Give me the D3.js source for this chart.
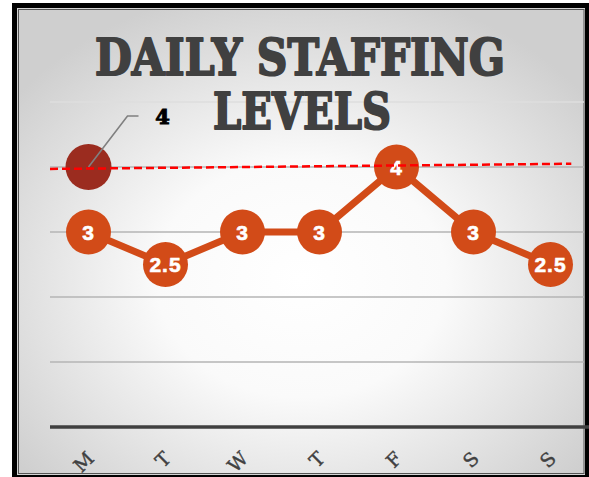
<!DOCTYPE html>
<html>
<head>
<meta charset="utf-8">
<script src="https://cdn.jsdelivr.net/npm/d3@7"></script>
<style>
  html, body { margin: 0; padding: 0; background: #ffffff; }
  svg { display: block; }
</style>
</head>
<body>
<script>
// ---- data ----
const days = ["M", "T", "W", "T", "F", "S", "S"];
const staffing = [3, 2.5, 3, 3, 4, 3, 2.5];
const highlightIndex = 0;
const highlightValue = 4;
const targetValues = [3.97, 4.05];      // dashed target line, start / end value
const targetSpan = [-0.5, 6.27];        // in category units
const yTicks = [0, 1, 2, 3, 4, 5];
const titleLines = ["DAILY STAFFING", "LEVELS"];

// ---- layout ----
const W = 589, H = 477;
const svg = d3.select("body").append("svg").attr("width", W).attr("height", H);

const defs = svg.append("defs");
const grad = defs.append("radialGradient").attr("id", "bg")
  .attr("cx", "50%").attr("cy", "58%").attr("r", "64%");
grad.append("stop").attr("offset", "0%").attr("stop-color", "#ffffff");
grad.append("stop").attr("offset", "40%").attr("stop-color", "#fafafa");
grad.append("stop").attr("offset", "100%").attr("stop-color", "#cfcfcf");

// frame
svg.append("rect").attr("x", 14.5).attr("y", 5.5).attr("width", 573).attr("height", 472)
  .attr("fill", "#d4d4d4").attr("stroke", "#000").attr("stroke-width", 5);
svg.append("rect").attr("x", 18.5).attr("y", 9.5).attr("width", 565.5).attr("height", 464)
  .attr("fill", "url(#bg)").attr("stroke", "#555").attr("stroke-width", 1);

const plotLeft = 50, plotRight = 589, gridRight = 584;
const x = d3.scaleBand().domain(d3.range(days.length)).range([plotLeft, plotRight]).padding(0);
const cx = i => x(i) + x.bandwidth() / 2;
const xi = d3.scaleLinear().domain([-0.5, days.length - 0.5]).range([plotLeft, plotRight]);
const y = d3.scaleLinear().domain([0, 5]).range([427, 102]);

// gridlines
svg.append("g").selectAll("line").data(yTicks.filter(t => t > 0)).join("line")
  .attr("x1", plotLeft).attr("x2", gridRight)
  .attr("y1", d => y(d)).attr("y2", d => y(d))
  .attr("stroke", d => d === 5 ? "#dedede" : "#b4b4b4")
  .attr("stroke-width", 1.5);

// axis line
svg.append("line").attr("x1", plotLeft).attr("x2", plotRight)
  .attr("y1", y(0)).attr("y2", y(0))
  .attr("stroke", "#404040").attr("stroke-width", 3.5);

// x axis labels
const xAxis = d3.axisBottom(x).tickFormat(i => days[i]).tickSize(0);
const gx = svg.append("g").attr("transform", `translate(0,${y(0)})`).call(xAxis);
gx.select(".domain").remove();
gx.selectAll("text")
  .attr("x", 0).attr("y", 0).attr("dy", "0.35em")
  .attr("text-anchor", "end")
  .attr("transform", "translate(2,28) rotate(-45)")
  .attr("fill", "#404040")
  .attr("stroke", "#404040").attr("stroke-width", 0.4)
  .style("font-family", "'DejaVu Serif', serif")
  .style("font-size", "19px");

// series line
svg.append("path").datum(staffing)
  .attr("fill", "none").attr("stroke", "#d24b18").attr("stroke-width", 7)
  .attr("stroke-linejoin", "round")
  .attr("d", d3.line().x((d, i) => cx(i)).y(d => y(d)));

// markers
svg.append("g").selectAll("circle").data(staffing).join("circle")
  .attr("cx", (d, i) => cx(i)).attr("cy", d => y(d)).attr("r", 22.5)
  .attr("fill", "#d24b18");

// data labels
svg.append("g").selectAll("text").data(staffing).join("text")
  .attr("x", (d, i) => cx(i)).attr("y", d => y(d)).attr("dy", "0.36em")
  .attr("text-anchor", "middle")
  .attr("fill", "#ffffff")
  .attr("stroke", "#ffffff").attr("stroke-width", 0.6)
  .style("font-family", "'Liberation Sans', Arial, sans-serif")
  .style("font-weight", "bold")
  .style("font-size", "21px")
  .style("letter-spacing", "1px")
  .text(d => d);

// highlight marker
const hx = cx(highlightIndex), hy = y(highlightValue);
svg.append("circle").attr("cx", hx).attr("cy", hy).attr("r", 23).attr("fill", "#9b2c1f");
svg.append("polyline")
  .attr("points", `${hx},${hy} ${hx + 39},${hy - 51} ${hx + 50},${hy - 51}`)
  .attr("fill", "none").attr("stroke", "#808080").attr("stroke-width", 1.6);
svg.append("text").attr("x", hx + 74).attr("y", hy - 51).attr("dy", "0.36em")
  .attr("text-anchor", "middle").attr("fill", "#000")
  .attr("stroke", "#000").attr("stroke-width", 1)
  .style("font-family", "'DejaVu Serif', serif").style("font-weight", "bold")
  .style("font-size", "21px")
  .text(highlightValue);

// target dashed line
svg.append("line")
  .attr("x1", xi(targetSpan[0])).attr("y1", y(targetValues[0]))
  .attr("x2", xi(targetSpan[1])).attr("y2", y(targetValues[1]))
  .attr("stroke", "#ff0000").attr("stroke-width", 2.5)
  .attr("stroke-dasharray", "8,4");

// title
const title = svg.append("g").attr("fill", "#404040")
  .attr("stroke", "#404040").attr("stroke-width", 2).attr("stroke-linejoin", "round")
  .style("font-family", "'DejaVu Serif', serif").style("font-weight", "bold");
title.append("text").attr("x", 300).attr("y", 75).attr("text-anchor", "middle")
  .style("font-size", "50px")
  .attr("textLength", 410).attr("lengthAdjust", "spacingAndGlyphs")
  .text(titleLines[0]);
title.append("text").attr("x", 302).attr("y", 129).attr("text-anchor", "middle")
  .style("font-size", "50px")
  .attr("textLength", 178).attr("lengthAdjust", "spacingAndGlyphs")
  .text(titleLines[1]);
</script>
</body>
</html>
